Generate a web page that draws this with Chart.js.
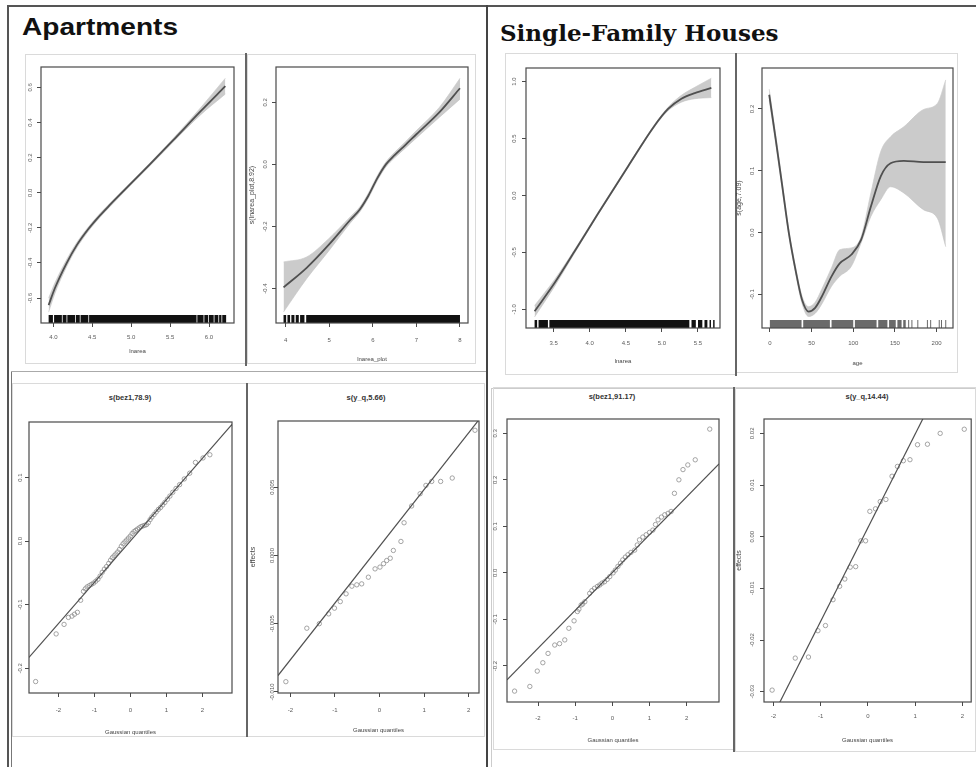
<!DOCTYPE html>
<html lang="en">
<head>
<meta charset="UTF-8">
<title>Smooth effects - apartments and single-family houses</title>
<script src="https://cdn.jsdelivr.net/npm/chart.js@4.4.1/dist/chart.umd.min.js"></script>
<style>
  html, body { margin: 0; padding: 0; background: #fff; }
  #page { position: relative; width: 976px; height: 767px; overflow: hidden; font-family: 'Liberation Sans', Arial, sans-serif; }
  .ln { position: absolute; }
  .frame { position: absolute; box-sizing: border-box; border: 1px solid #dadada; }
  .head { position: absolute; white-space: nowrap; color: #111; }
  .ptitle { position: absolute; width: 120px; text-align: center; font-size: 7.5px; line-height: 10px; font-weight: bold; color: #333; }
  canvas { position: absolute; }
</style>
</head>
<body>
<div id="page">
  <div class="head" style="left:22px;top:15px;font:bold 24px/24px 'Liberation Sans',Arial,sans-serif;transform:scaleX(1.17);transform-origin:0 0;">Apartments</div>
  <div class="head" style="left:500px;top:21px;font:bold 23px/23px 'DejaVu Serif',serif;">Single-Family Houses</div>

  <!-- outer lines -->
  <div class="ln" style="left:7px;top:5px;width:969px;height:2px;background:#555"></div>
  <div class="ln" style="left:7px;top:5px;width:2px;height:762px;background:#555"></div>
  <div class="ln" style="left:11px;top:371px;width:1px;height:396px;background:#777"></div>
  <div class="ln" style="left:11px;top:371px;width:476px;height:1px;background:#aaa"></div>
  <div class="ln" style="left:486px;top:5px;width:2px;height:762px;background:#444"></div>
  <div class="ln" style="left:491px;top:388px;width:1px;height:379px;background:#ccc"></div>
  <div class="ln" style="left:491px;top:388px;width:485px;height:1px;background:#ccc"></div>

  <!-- panel frames -->
  <div class="frame" style="left:25px;top:54px;width:221px;height:310px"></div>
  <div class="frame" style="left:247px;top:54px;width:229px;height:310px"></div>
  <div class="frame" style="left:505px;top:53px;width:231px;height:322px"></div>
  <div class="frame" style="left:736px;top:53px;width:222px;height:320px"></div>
  <div class="frame" style="left:12px;top:383px;width:235px;height:354px"></div>
  <div class="frame" style="left:247px;top:383px;width:238px;height:354px"></div>
  <div class="frame" style="left:493px;top:387px;width:242px;height:363px"></div>
  <div class="frame" style="left:735px;top:387px;width:241px;height:365px"></div>

  <!-- dividers between panels -->
  <div class="ln" style="left:245px;top:53px;width:2px;height:313px;background:#666"></div>
  <div class="ln" style="left:735px;top:53px;width:2px;height:323px;background:#666"></div>
  <div class="ln" style="left:246px;top:383px;width:2px;height:354px;background:#666"></div>
  <div class="ln" style="left:733px;top:387px;width:2px;height:365px;background:#666"></div>

  <div class="ptitle" style="left:70px;top:393px">s(bez1,78.9)</div>
  <div class="ptitle" style="left:306px;top:393px">s(y_q,5.66)</div>
  <div class="ptitle" style="left:552px;top:392px">s(bez1,91.17)</div>
  <div class="ptitle" style="left:807px;top:392px">s(y_q,14.44)</div>
</div>
<script>
// ---------- Apartments: smooth of lnarea ----------
var aptAreaX   = [3.94, 4.02, 4.17, 4.30, 4.45, 4.60, 4.73, 4.90, 5.03, 5.24, 5.54, 5.89, 6.21];
var aptAreaFit = [-0.640, -0.544, -0.402, -0.300, -0.207, -0.129, -0.068, 0.009, 0.067, 0.161, 0.299, 0.463, 0.607];
var aptAreaUp  = [-0.600, -0.514, -0.382, -0.285, -0.195, -0.118, -0.058, 0.018, 0.075, 0.169, 0.309, 0.483, 0.652];
var aptAreaLo  = [-0.680, -0.574, -0.422, -0.315, -0.219, -0.140, -0.078, 0.000, 0.059, 0.153, 0.289, 0.443, 0.562];
var aptAreaRugFrom = [3.94, 4.01, 4.12, 4.18, 4.29, 4.35, 4.46, 5.85, 5.94, 6.00, 6.07, 6.13, 6.17];
var aptAreaRugTo   = [3.995, 4.11, 4.17, 4.28, 4.34, 4.45, 5.84, 5.93, 5.99, 6.06, 6.12, 6.16, 6.22];
var aptAreaXTicks = [4.0, 4.5, 5.0, 5.5, 6.0];
var aptAreaYTicks = [-0.6, -0.4, -0.2, 0, 0.2, 0.4, 0.6];

// ---------- Apartments: smooth of lnarea_plot ----------
var aptPlotX   = [3.95, 4.48, 4.98, 5.48, 5.70, 5.90, 6.10, 6.30, 6.50, 6.75, 7.00, 7.53, 8.00];
var aptPlotFit = [-0.396, -0.333, -0.260, -0.179, -0.145, -0.100, -0.045, 0.000, 0.030, 0.063, 0.097, 0.168, 0.245];
var aptPlotUp  = [-0.314, -0.298, -0.240, -0.169, -0.137, -0.092, -0.037, 0.008, 0.039, 0.073, 0.109, 0.184, 0.277];
var aptPlotLo  = [-0.475, -0.368, -0.280, -0.189, -0.153, -0.108, -0.053, -0.008, 0.021, 0.053, 0.085, 0.152, 0.210];
var aptPlotRugFrom = [3.95, 4.04, 4.13, 4.23, 4.33, 4.47];
var aptPlotRugTo   = [4.01, 4.10, 4.20, 4.30, 4.43, 8.00];
var aptPlotXTicks = [4, 5, 6, 7, 8];
var aptPlotYTicks = [-0.4, -0.2, 0, 0.2];

// ---------- Single-family: smooth of lnarea ----------
var sfhAreaX   = [3.235, 3.514, 3.790, 4.113, 4.530, 4.900, 5.085, 5.270, 5.455, 5.685];
var sfhAreaFit = [-1.017, -0.767, -0.490, -0.160, 0.255, 0.615, 0.760, 0.850, 0.900, 0.945];
var sfhAreaUp  = [-0.967, -0.737, -0.475, -0.150, 0.265, 0.625, 0.775, 0.880, 0.950, 1.030];
var sfhAreaLo  = [-1.067, -0.797, -0.505, -0.170, 0.245, 0.605, 0.745, 0.820, 0.850, 0.860];
var sfhAreaRugFrom = [3.235, 3.29, 3.44, 5.41, 5.50, 5.59, 5.66, 5.71];
var sfhAreaRugTo   = [3.27, 3.42, 5.38, 5.47, 5.56, 5.63, 5.68, 5.73];
var sfhAreaXTicks = [3.5, 4.0, 4.5, 5.0, 5.5];
var sfhAreaYTicks = [-1.0, -0.5, 0, 0.5, 1.0];

// ---------- Single-family: smooth of age ----------
var sfhAgeX   = [-0.8, 7.1, 15.0, 22.8, 30.7, 38.6, 46.4, 54.3, 62.2, 74.0, 83.8, 97.6, 109.4, 121.2, 133.0, 144.8, 160.6, 184.2, 201.0, 211.0];
var sfhAgeFit = [0.223, 0.150, 0.074, -0.001, -0.060, -0.109, -0.128, -0.122, -0.104, -0.071, -0.050, -0.036, -0.012, 0.042, 0.091, 0.112, 0.116, 0.114, 0.114, 0.114];
var sfhAgeUp  = [0.232, 0.157, 0.080, 0.004, -0.055, -0.103, -0.120, -0.113, -0.092, -0.057, -0.028, -0.025, -0.007, 0.064, 0.131, 0.155, 0.171, 0.199, 0.209, 0.247];
var sfhAgeLo  = [0.214, 0.143, 0.068, -0.006, -0.065, -0.115, -0.136, -0.131, -0.116, -0.087, -0.071, -0.055, -0.017, 0.026, 0.053, 0.074, 0.064, 0.037, 0.023, -0.023];
var sfhAgeRugFrom = [0, 40, 74, 102, 130, 143, 153, 160];
var sfhAgeRugTo   = [38, 72, 100, 128, 141, 151, 158, 163];
var sfhAgeRugTicks = [166.5, 170.4, 177.5, 189.0, 192.9, 203.2, 205.9, 211.0];
var sfhAgeXTicks = [0, 50, 100, 150, 200];
var sfhAgeYTicks = [-0.1, 0, 0.1, 0.2];

// ---------- QQ plots of random effects: [gaussian quantile, effect] ----------
var qqAptBez = [[-2.63,-0.221],[-2.06,-0.146],[-1.84,-0.131],[-1.72,-0.120],[-1.62,-0.118],[-1.55,-0.115],[-1.47,-0.112],
  [-1.38,-0.093],[-1.30,-0.079],[-1.25,-0.075],[-1.20,-0.072],[-1.14,-0.070],[-1.08,-0.068],[-1.02,-0.066],[-0.96,-0.063],
  [-0.90,-0.060],[-0.84,-0.055],[-0.78,-0.049],[-0.72,-0.044],[-0.66,-0.040],[-0.60,-0.035],[-0.55,-0.030],[-0.50,-0.026],
  [-0.45,-0.023],[-0.40,-0.020],[-0.35,-0.017],[-0.30,-0.013],[-0.25,-0.008],[-0.20,-0.004],[-0.15,-0.001],[-0.10,0.002],
  [-0.05,0.005],[0.00,0.008],[0.05,0.012],[0.10,0.015],[0.15,0.017],[0.20,0.019],[0.25,0.021],[0.30,0.023],[0.35,0.024],
  [0.40,0.025],[0.45,0.026],[0.50,0.029],[0.55,0.034],[0.60,0.038],[0.66,0.042],[0.72,0.046],[0.78,0.050],[0.84,0.053],
  [0.90,0.057],[0.96,0.061],[1.03,0.066],[1.10,0.071],[1.18,0.077],[1.27,0.083],[1.37,0.089],[1.50,0.098],[1.65,0.107],
  [1.81,0.124],[2.02,0.131],[2.21,0.136]];
var qqAptBezLine = [[-2.814,-0.183],[2.825,0.184]];
var qqAptYq = [[-2.10,-0.00925],[-1.63,-0.00533],[-1.35,-0.0050],[-1.14,-0.00428],[-1.01,-0.00386],[-0.88,-0.00338],
  [-0.75,-0.00281],[-0.62,-0.00225],[-0.51,-0.00215],[-0.40,-0.00208],[-0.25,-0.00159],[-0.10,-0.00098],[0.01,-0.00085],
  [0.09,-0.0006],[0.16,-0.00037],[0.24,-0.0002],[0.31,0.00037],[0.48,0.00103],[0.55,0.0024],[0.72,0.00363],[0.91,0.00453],
  [1.04,0.00514],[1.17,0.00543],[1.37,0.00543],[1.63,0.00568],[2.14,0.00918]];
var qqAptYqLine = [[-2.276,-0.0088],[2.24,0.0100]];
var qqSfhBez = [[-2.63,-0.254],[-2.22,-0.244],[-2.02,-0.211],[-1.87,-0.193],[-1.73,-0.173],[-1.55,-0.155],[-1.42,-0.152],
  [-1.28,-0.144],[-1.17,-0.119],[-1.03,-0.103],[-0.94,-0.083],[-0.90,-0.078],[-0.84,-0.069],[-0.80,-0.067],[-0.74,-0.062],
  [-0.61,-0.044],[-0.55,-0.038],[-0.48,-0.033],[-0.40,-0.029],[-0.34,-0.026],[-0.28,-0.022],[-0.21,-0.019],[-0.14,-0.014],
  [-0.07,-0.008],[0.02,0.000],[0.08,0.006],[0.15,0.014],[0.22,0.021],[0.28,0.028],[0.35,0.034],[0.42,0.039],[0.50,0.044],
  [0.60,0.049],[0.67,0.060],[0.73,0.071],[0.82,0.077],[0.91,0.082],[1.00,0.087],[1.09,0.092],[1.16,0.104],[1.23,0.114],
  [1.32,0.120],[1.41,0.125],[1.50,0.128],[1.58,0.132],[1.67,0.171],[1.79,0.200],[1.90,0.222],[2.03,0.232],[2.23,0.243],
  [2.62,0.309]];
var qqSfhBezLine = [[-2.834,-0.230],[2.869,0.234]];
var qqSfhYq = [[-2.03,-0.0297],[-1.54,-0.0235],[-1.26,-0.0233],[-1.06,-0.0182],[-0.90,-0.0172],[-0.74,-0.0122],
  [-0.60,-0.0096],[-0.49,-0.0082],[-0.375,-0.0059],[-0.26,-0.0058],[-0.15,-0.0008],[-0.05,-0.0008],[0.04,0.0049],
  [0.16,0.0054],[0.26,0.0068],[0.38,0.0072],[0.51,0.0117],[0.625,0.0136],[0.75,0.0147],[0.89,0.0149],[1.05,0.0178],
  [1.26,0.0179],[1.53,0.0200],[2.04,0.0208]];
var qqSfhYqLine = [[-1.87,-0.0321],[1.19,0.0233]];
var qqXTicks = [-2, -1, 0, 1, 2];
var qqAptBezYTicks = [-0.2, -0.1, 0, 0.1];
var qqAptYqYTicks = [-0.010, -0.005, 0, 0.005];
var qqSfhBezYTicks = [-0.2, -0.1, 0, 0.1, 0.2, 0.3];
var qqSfhYqYTicks = [-0.03, -0.02, -0.01, 0, 0.01, 0.02];

var FONT = "'Liberation Sans', Arial, sans-serif";
var TICK_SIZE = 6, TICK_LEN = 4;
var AXIS_COLOR = '#4a4a4a', TICK_COLOR = '#5a5a5a', LABEL_COLOR = '#444';
var RUG_H = 8;
Chart.defaults.font.family = FONT;
Chart.defaults.animation = false;

var mctx = document.createElement('canvas').getContext('2d');
function widest(labels, size) {
  mctx.font = size + 'px ' + FONT;
  return Math.max.apply(null, labels.map(function (l) { return mctx.measureText(l).width; }));
}
function fmt(v, d) { return Math.abs(v) < 1e-12 ? (0).toFixed(d) : v.toFixed(d); }
function pts(xs, ys) { return xs.map(function (x, i) { return {x: x, y: ys[i]}; }); }
function pairs(p) { return p.map(function (d) { return {x: d[0], y: d[1]}; }); }

function smoothSets(xs, fit, up, lo) {
  return [
    {type: 'line', data: pts(xs, fit), borderColor: '#505050', borderWidth: 1.8, pointRadius: 0, cubicInterpolationMode: 'monotone', fill: false, order: 0},
    {type: 'line', data: pts(xs, up), borderColor: '#c2c2c2', borderWidth: 0.6, pointRadius: 0, cubicInterpolationMode: 'monotone', fill: false, order: 3},
    {type: 'line', data: pts(xs, lo), borderColor: '#c2c2c2', borderWidth: 0.6, pointRadius: 0, cubicInterpolationMode: 'monotone', fill: '-1', backgroundColor: '#cbcbcb', order: 2}
  ];
}
// rug: solid runs of ticks plus single ticks, on a helper axis counted in pixels from the box bottom
function rugSets(from, to, ticks, color) {
  var y = RUG_H / 2;
  var sets = from.map(function (a, i) {
    return {type: 'line', yAxisID: 'yr', data: [{x: a, y: y}, {x: to[i], y: y}], borderColor: color, borderWidth: RUG_H,
      borderCapStyle: 'butt', pointRadius: 0, fill: false, order: 1};
  });
  if (ticks) {
    sets.push({type: 'scatter', yAxisID: 'yr', data: ticks.map(function (v) { return {x: v, y: y}; }),
      pointStyle: 'line', pointRotation: 90, pointRadius: RUG_H / 2, pointBorderWidth: 1, pointBorderColor: color, order: 1});
  }
  return sets;
}
function qqSets(points, line) {
  return [
    {type: 'line', data: pairs(line), borderColor: '#505050', borderWidth: 1.2, pointRadius: 0, fill: false, order: 0},
    {type: 'scatter', data: pairs(points), pointStyle: 'circle', pointRadius: 2.2, pointBorderWidth: 0.8,
      pointBorderColor: '#8e8e8e', pointBackgroundColor: 'rgba(255,255,255,0)', order: 1}
  ];
}

var boxPlugin = {
  id: 'plotBox',
  afterDatasetsDraw: function (chart) {
    var a = chart.chartArea, c = chart.ctx;
    c.save();
    c.strokeStyle = AXIS_COLOR;
    c.lineWidth = 1.2;
    c.strokeRect(a.left, a.top, a.right - a.left, a.bottom - a.top);
    c.restore();
  }
};

var panels = [
  {frame: [25, 54, 246, 364], box: [41, 67, 234, 323], x: [3.842, 6.321], y: [-0.742, 0.716],
   xTicks: aptAreaXTicks, xDec: 1, yTicks: aptAreaYTicks, yDec: 1, yLabOff: 10.7, xLabOff: 14.3,
   xTitle: 'lnarea', xTitleY: 351.7,
   sets: smoothSets(aptAreaX, aptAreaFit, aptAreaUp, aptAreaLo).concat(rugSets(aptAreaRugFrom, aptAreaRugTo, null, '#111'))},
  {frame: [247, 54, 476, 364], box: [276, 67, 468, 323], x: [3.777, 8.184], y: [-0.5105, 0.3135],
   xTicks: aptPlotXTicks, xDec: 0, yTicks: aptPlotYTicks, yDec: 1, yLabOff: 11, xLabOff: 17,
   xTitle: 'lnarea_plot', xTitleY: 359, yTitle: 's(lnarea_plot,8.92)', yTitleX: 252,
   sets: smoothSets(aptPlotX, aptPlotFit, aptPlotUp, aptPlotLo).concat(rugSets(aptPlotRugFrom, aptPlotRugTo, null, '#111'))},
  {frame: [505, 53, 736, 375], box: [526, 68, 720, 328], x: [3.116, 5.805], y: [-1.164, 1.120],
   xTicks: sfhAreaXTicks, xDec: 1, yTicks: sfhAreaYTicks, yDec: 1, yLabOff: 11.3, xLabOff: 15.3,
   xTitle: 'lnarea', xTitleY: 361.7,
   sets: smoothSets(sfhAreaX, sfhAreaFit, sfhAreaUp, sfhAreaLo).concat(rugSets(sfhAreaRugFrom, sfhAreaRugTo, null, '#111'))},
  {frame: [736, 53, 958, 373], box: [762, 68, 956, 328], x: [-9.45, 219.7], y: [-0.1546, 0.2663],
   xTicks: sfhAgeXTicks, xDec: 0, yTicks: sfhAgeYTicks, yDec: 1, yLabOff: 9.3, xLabOff: 15.3,
   xTitle: 'age', xTitleY: 363, yTitle: 's(age,7.09)', yTitleX: 738.7,
   sets: smoothSets(sfhAgeX, sfhAgeFit, sfhAgeUp, sfhAgeLo).concat(rugSets(sfhAgeRugFrom, sfhAgeRugTo, sfhAgeRugTicks, '#6a6a6a'))},
  {frame: [12, 383, 247, 737], box: [29, 422, 232, 693], x: [-2.814, 2.825], y: [-0.239, 0.1876],
   xTicks: qqXTicks, xDec: 0, yTicks: qqAptBezYTicks, yDec: 1, yLabOff: 9, xLabOff: 17,
   xTitle: 'Gaussian quantiles', xTitleY: 732.3, sets: qqSets(qqAptBez, qqAptBezLine)},
  {frame: [247, 383, 485, 737], box: [278, 421, 479, 693], x: [-2.276, 2.230], y: [-0.01008, 0.00986],
   xTicks: qqXTicks, xDec: 0, yTicks: qqAptYqYTicks, yDec: 3, yLabOff: 6, xLabOff: 17,
   xTitle: 'Gaussian quantiles', xTitleY: 730, yTitle: 'effects', yTitleX: 253.3, sets: qqSets(qqAptYq, qqAptYqLine)},
  {frame: [493, 387, 735, 750], box: [507, 419, 719, 702], x: [-2.834, 2.869], y: [-0.2774, 0.3307],
   xTicks: qqXTicks, xDec: 0, yTicks: qqSfhBezYTicks, yDec: 1, yLabOff: 12, xLabOff: 16.3,
   xTitle: 'Gaussian quantiles', xTitleY: 740, sets: qqSets(qqSfhBez, qqSfhBezLine)},
  {frame: [735, 387, 976, 752], box: [764, 419, 975, 702], x: [-2.202, 2.187], y: [-0.0320, 0.02278],
   xTicks: qqXTicks, xDec: 0, yTicks: qqSfhYqYTicks, yDec: 2, yLabOff: 12, xLabOff: 14.7,
   xTitle: 'Gaussian quantiles', xTitleY: 740, yTitle: 'effects', yTitleX: 738.7, sets: qqSets(qqSfhYq, qqSfhYqLine)}
];

var page = document.getElementById('page');
panels.forEach(function (p) {
  var cl = p.frame[0] - 6, ct = p.frame[1], cr = p.frame[2], cb = p.frame[3];
  var bl = p.box[0], bt = p.box[1], br = p.box[2], bb = p.box[3];
  var cv = document.createElement('canvas');
  cv.width = cr - cl; cv.height = cb - ct;
  cv.style.left = cl + 'px'; cv.style.top = ct + 'px';
  cv.style.width = cv.width + 'px'; cv.style.height = cv.height + 'px';
  page.appendChild(cv);

  var yLabels = p.yTicks.map(function (v) { return fmt(v, p.yDec); });
  var yPad = p.yLabOff - TICK_LEN - widest(yLabels, TICK_SIZE) / 2;
  var xPad = p.xLabOff - TICK_LEN - TICK_SIZE * 0.6;
  var titleSize = 6, yTitleSize = 7;

  new Chart(cv, {
    type: 'scatter',
    data: {datasets: p.sets},
    options: {
      responsive: false,
      maintainAspectRatio: false,
      animation: false,
      events: [],
      layout: {padding: {left: 0, top: bt - ct, right: cr - br, bottom: 0}},
      plugins: {legend: {display: false}, tooltip: {enabled: false}},
      scales: {
        x: {
          type: 'linear', min: p.x[0], max: p.x[1],
          afterBuildTicks: function (s) { s.ticks = p.xTicks.map(function (v) { return {value: v}; }); },
          afterFit: function (s) { s.height = cb - bb; },
          ticks: {autoSkip: false, minRotation: 0, maxRotation: 0, padding: xPad, color: TICK_COLOR,
            font: {size: TICK_SIZE}, callback: function (v) { return fmt(v, p.xDec); }},
          grid: {drawOnChartArea: false, drawTicks: true, tickLength: TICK_LEN, color: AXIS_COLOR, lineWidth: 1},
          border: {display: false},
          title: {display: true, text: p.xTitle, color: LABEL_COLOR, font: {size: titleSize},
            padding: {top: 0, bottom: Math.max(0, cb - p.xTitleY - titleSize * 0.6)}}
        },
        y: {
          type: 'linear', min: p.y[0], max: p.y[1],
          afterBuildTicks: function (s) { s.ticks = p.yTicks.map(function (v) { return {value: v}; }); },
          afterFit: function (s) { s.width = bl - cl; },
          ticks: {autoSkip: false, minRotation: 90, maxRotation: 90, crossAlign: 'center', padding: yPad,
            color: TICK_COLOR, font: {size: TICK_SIZE}, callback: function (v) { return fmt(v, p.yDec); }},
          grid: {drawOnChartArea: false, drawTicks: true, tickLength: TICK_LEN, color: AXIS_COLOR, lineWidth: 1},
          border: {display: false},
          title: {display: !!p.yTitle, text: p.yTitle || '', color: LABEL_COLOR, font: {size: yTitleSize},
            padding: {top: p.yTitle ? Math.max(0, p.yTitleX - cl - yTitleSize * 0.6) : 0, bottom: 0}}
        },
        yr: {type: 'linear', display: false, min: 0, max: bb - bt}
      }
    },
    plugins: [boxPlugin]
  });
});
</script>
</body>
</html>
